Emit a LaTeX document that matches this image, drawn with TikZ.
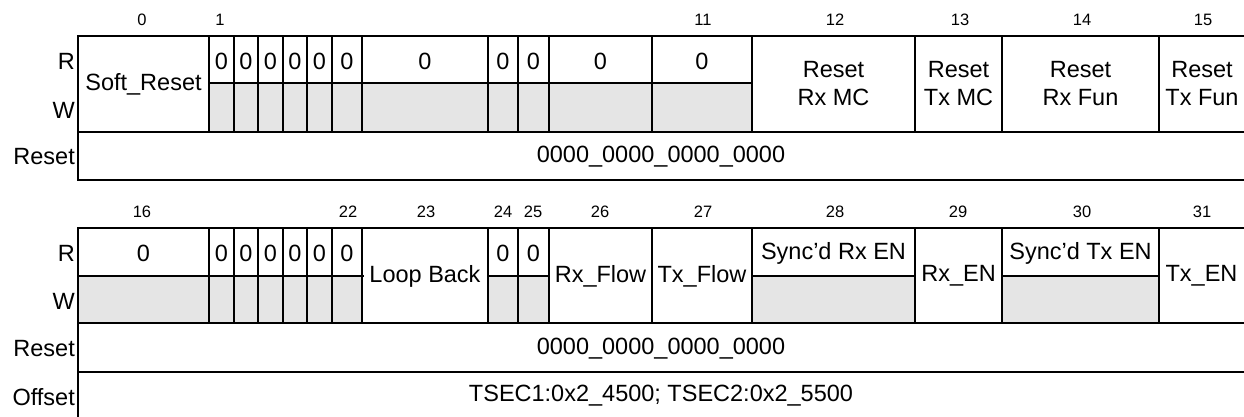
\documentclass[tikz,border=0pt]{standalone}
\usepackage{fontspec}
\setmainfont{Liberation Sans}
\usepackage{tikz}

\begin{document}
\begin{tikzpicture}[x=1pt,y=-1pt,
  ln/.style={line width=1.8pt},
  wr/.style={fill=gray!20},
  rl/.style={anchor=east,inner sep=0pt,font=\fontsize{23.5}{28}\selectfont},
  bn/.style={inner sep=0pt,font=\fontsize{16.5}{18}\selectfont},
  fd/.style={inner sep=0pt,align=center,font=\fontsize{23.5}{28}\selectfont}
]
\useasboundingbox (0,0) rectangle (1244,417);
% ---- top register: bits 0 to 15 ----
% grey write halves of the reserved bits
\foreach \xa/\xb in {209/362,362/752}
  \fill[wr] (\xa,83) rectangle (\xb,132);
% frame and rows
\draw[ln] (1244,36) -- (78,36) -- (78,180) -- (1244,180);
\draw[ln] (78,132) -- (1244,132);
\draw[ln] (209,83) -- (752,83);
\foreach \xd in {209,234,258,283,307,332,362,488,518,549,652,752,915,1002,1159}
  \draw[ln] (\xd,36) -- (\xd,132);
% bit numbers
\node[bn] (t0)  at (142,20)  {0};
\node[bn] (t1)  at (220,20)  {1};
\node[bn] (t11) at (703,20)  {11};
\node[bn] (t12) at (835,20)  {12};
\node[bn] (t13) at (960,20)  {13};
\node[bn] (t14) at (1082,20) {14};
\node[bn] (t15) at (1203,20) {15};
% row labels
\node[rl] (tR)   at (75,61)  {R};
\node[rl] (tW)   at (75,110) {W};
\node[rl] (tRst) at (75,157) {Reset};
% fields
\node[fd] (softrst) at (143.5,84) {Soft\_Reset};
\foreach \xc [count=\i] in {221.5,246,270.5,295,319.5,347,425,503,533.5,600.5,702}
  \node[fd] (tz\i) at (\xc,61) {0};
\node[fd] (rstrxmc)  at (833.5,84)  {Reset\\Rx MC};
\node[fd] (rsttxmc)  at (958.5,84)  {Reset\\Tx MC};
\node[fd] (rstrxfun) at (1080.5,84) {Reset\\Rx Fun};
\node[fd] (rsttxfun) at (1202,84)   {Reset\\Tx Fun};
\node[fd] (tval) at (661,157) {0000\_0000\_0000\_0000};
% ---- bottom register: bits 16 to 31 ----
\foreach \xa/\xb in {78/362,488/549,752/915,1002/1159}
  \fill[wr] (\xa,276) rectangle (\xb,323);
\draw[ln] (1244,228) -- (78,228) -- (78,420);
\draw[ln] (78,323) -- (1244,323);
\draw[ln] (78,372) -- (1244,372);
\draw[ln] (78,276) -- (364,276);
\draw[ln] (488,276) -- (548,276);
\draw[ln] (752,276) -- (915,276);
\draw[ln] (1002,276) -- (1159,276);
\foreach \xd in {209,234,258,283,307,332,362,488,518,549,652,752,915,1002,1159}
  \draw[ln] (\xd,228) -- (\xd,323);
% bit numbers
\node[bn] (b16) at (142,212)  {16};
\node[bn] (b22) at (348,212)  {22};
\node[bn] (b23) at (426,212)  {23};
\node[bn] (b24) at (503,212)  {24};
\node[bn] (b25) at (533,212)  {25};
\node[bn] (b26) at (600,212)  {26};
\node[bn] (b27) at (703,212)  {27};
\node[bn] (b28) at (835,212)  {28};
\node[bn] (b29) at (958,212)  {29};
\node[bn] (b30) at (1082,212) {30};
\node[bn] (b31) at (1202,212) {31};
% row labels
\node[rl] (bR)   at (75,253) {R};
\node[rl] (bW)   at (75,301) {W};
\node[rl] (bRst) at (75,349) {Reset};
\node[rl] (bOff) at (75,397) {Offset};
% fields
\foreach \xc [count=\i] in {143.5,221.5,246,270.5,295,319.5,347,503,533.5}
  \node[fd] (bz\i) at (\xc,253) {0};
\node[fd] (loopbk) at (425,276)    {Loop Back};
\node[fd] (rxflow) at (600.5,276)  {Rx\_Flow};
\node[fd] (txflow) at (702,276)    {Tx\_Flow};
\node[fd] (syncrx) at (833.5,253)  {Sync'd Rx EN};
\node[fd] (rxen)   at (958.5,276)  {Rx\_EN};
\node[fd] (synctx) at (1080.5,253) {Sync'd Tx EN};
\node[fd] (txen)   at (1201.5,276) {Tx\_EN};
\node[fd] (bval) at (661,349) {0000\_0000\_0000\_0000};
\node[fd] (offs) at (661,396) {TSEC1:0x2\_4500; TSEC2:0x2\_5500};
\end{tikzpicture}
\end{document}
